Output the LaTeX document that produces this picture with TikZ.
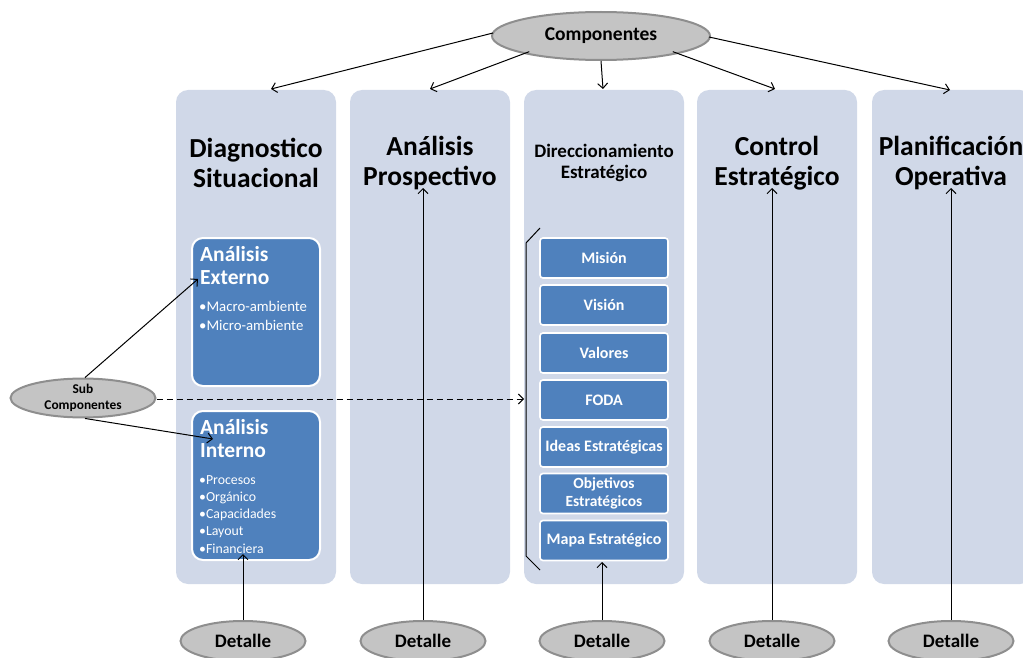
\documentclass[tikz,border=0pt]{standalone}
\usepackage{fontspec}
\setmainfont{Carlito}
\usetikzlibrary{arrows.meta,shapes.geometric,calc}
\definecolor{colfill}{HTML}{D0D8E8}
\definecolor{boxfill}{HTML}{4F81BD}
\definecolor{ellfill}{HTML}{C4C4C4}
\definecolor{elldraw}{HTML}{8E8E8E}
\tikzset{
  column/.style={fill=colfill, draw=none, rounded corners=12pt, minimum width=160pt, minimum height=494pt, inner sep=0pt},
  subbox/.style={fill=boxfill, draw=white, line width=2pt, rounded corners=11pt, minimum width=128pt, inner sep=0pt},
  itembox/.style={fill=boxfill, draw=white, line width=1.6pt, rounded corners=3pt, minimum width=128pt, minimum height=40pt, inner sep=0pt, text=white, font=\bfseries\fontsize{16}{17.5}\selectfont, align=center},
  oval/.style={ellipse, fill=ellfill, draw=elldraw, line width=2pt, inner sep=0pt, font=\bfseries},
  title/.style={font=\bfseries\fontsize{27.5}{30.5}\selectfont, align=center},
  conn/.style={line width=1pt, -{Straight Barb[length=5pt,width=10pt]}},
  heading/.style={text=white, font=\bfseries\fontsize{21.5}{23.5}\selectfont, align=left, anchor=north west, inner sep=0pt},
  bullets/.style={text=white, font=\fontsize{14.8}{19}\selectfont, align=left, anchor=north west, inner sep=0pt},
  detail/.style={oval, minimum width=125pt, minimum height=40pt, font=\bfseries\fontsize{19}{20}\selectfont},
}
\begin{document}
\begin{tikzpicture}[x=1pt,y=-1pt]
\useasboundingbox (0,0) rectangle (1023,658);

% columns
\node[column] (c1) at (256,337) {};
\node[column] (c2) at (430,337) {};
\node[column] (c3) at (604,337) {};
\node[column] (c4) at (777,337) {};
\node[column] (c5) at (952,337) {};

% column titles
\node[title] (t1) at (256,163) {Diagnostico\\Situacional};
\node[title] (t2) at (430,163) {Análisis\\Prospectivo};
\node[font=\bfseries\fontsize{19}{20.5}\selectfont, align=center] (t3) at (604,163) {Direccionamiento\\Estratégico};
\node[title] (t4) at (777,163) {Control\\Estratégico};
\node[title] (t5) at (951,163) {Planificación\\Operativa};

% Diagnostico sub boxes
\node[subbox, minimum height=148pt] (ext) at (256,312) {};
\node[heading] (exth) at (200,246) {Análisis\\Externo};
\node[bullets] (extb) at (199,301) {•Macro-ambiente\\•Micro-ambiente};

\node[subbox, minimum height=149pt] (int) at (256,485.5) {};
\node[heading] (inth) at (200,419) {Análisis\\Interno};
\node[bullets, font=\fontsize{13.8}{17.3}\selectfont] (intb) at (199,475) {•Procesos\\•Orgánico\\•Capacidades\\•Layout\\•Financiera};

% Direccionamiento items
\node[itembox] (m1) at (604,258) {Misión};
\node[itembox] (m2) at (604,305) {Visión};
\node[itembox] (m3) at (604,353) {Valores};
\node[itembox] (m4) at (604,400) {FODA};
\node[itembox] (m5) at (604,447) {Ideas Estratégicas};
\node[itembox, font=\bfseries\fontsize{15.5}{18}\selectfont] (m6) at (604,493.5) {Objetivos\\Estratégicos};
\node[itembox] (m7) at (604,540.5) {Mapa Estratégico};

% bracket beside the items
\coordinate (bt) at (540,228);
\coordinate (bb) at (540,570);
\draw[line width=1pt] (bt) -- (526,243) -- (526,556) -- (bb);

% top oval
\node[oval, minimum width=218pt, minimum height=48pt, font=\bfseries\fontsize{19.5}{21}\selectfont] (comp) at (601,36) {Componentes};

\coordinate (a1) at (271,89);
\coordinate (a2) at (430,89);
\coordinate (a3) at (603,89);
\coordinate (a4) at (775,89);
\coordinate (a5) at (950,90);
\draw[conn] (comp.west) ++(2,-3) -- (a1);
\draw[conn] (comp.south west) ++(6,-2) -- (a2);
\draw[conn] (comp.south) -- (a3);
\draw[conn] (comp.south east) ++(-6,-2) -- (a4);
\draw[conn] (comp.east) ++(-2,1) -- (a5);

% sub components oval
\node[oval, minimum width=145pt, minimum height=35pt, font=\bfseries\fontsize{13.4}{16}\selectfont, align=center] (sub) at (83,398) {Sub\\Componentes};
\coordinate (e1) at (198,279);
\coordinate (e2) at (213,439);
\coordinate (e3) at (524,399);
\draw[conn] (sub.north) ++(2,0) -- (e1);
\draw[conn] (sub.south) ++(2,0) -- (e2);
\draw[conn, dashed, dash pattern=on 6pt off 4pt] (sub.east) ++(0,1) -- (e3);

% detail ovals
\node[detail] (d1) at (243,641) {Detalle};
\node[detail] (d2) at (423,641) {Detalle};
\node[detail] (d3) at (602,641) {Detalle};
\node[detail] (d4) at (772,641) {Detalle};
\node[detail] (d5) at (951,641) {Detalle};

\coordinate (u1) at (243,554);
\coordinate (u2) at (423,188);
\coordinate (u3) at (602,562);
\coordinate (u4) at (772,188);
\coordinate (u5) at (951,188);
\draw[conn] (d1.north) -- (u1);
\draw[conn] (d2.north) -- (u2);
\draw[conn] (d3.north) -- (u3);
\draw[conn] (d4.north) -- (u4);
\draw[conn] (d5.north) -- (u5);
\end{tikzpicture}
\end{document}
